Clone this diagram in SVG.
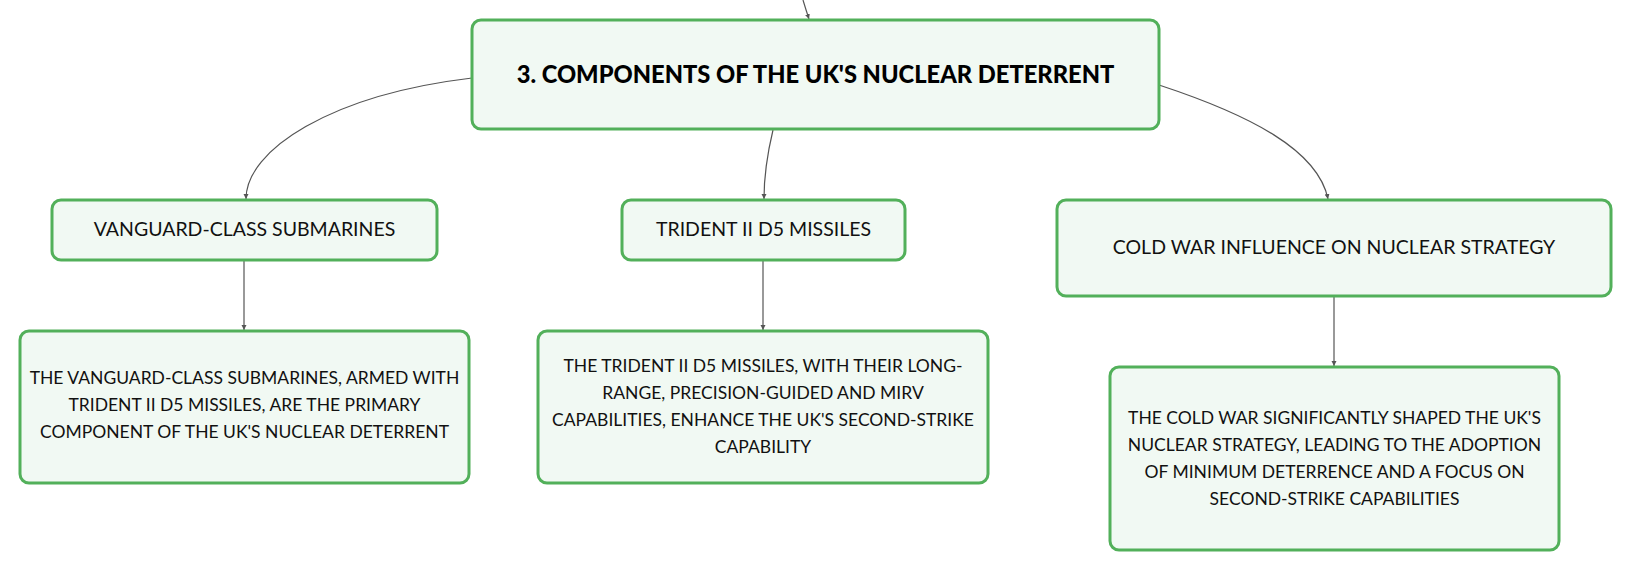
<svg xmlns="http://www.w3.org/2000/svg" width="1633" height="573" viewBox="0 0 1633 573">
<style>
.box{fill:#f1f9f3;stroke:#52b05a;stroke-width:3}
.t{font-family:Lato,"Open Sans","Liberation Sans",sans-serif;font-size:17.5px;fill:#111;text-anchor:middle}
.s{font-size:19.5px}
.h{font-family:Lato,"Liberation Sans",sans-serif;font-size:23.7px;font-weight:900;fill:#000;text-anchor:middle}
.c{fill:none;stroke:#555;stroke-width:1.2}
</style>
<defs>
<marker id="a" markerWidth="6" markerHeight="6" refX="5" refY="3" orient="auto" markerUnits="userSpaceOnUse">
<path d="M0,0.5 L5,3 L0,5.5 z" fill="#555"/>
</marker>
</defs>
<g id="connectors">
<path class="c" d="M803,0 Q806,10 809,19" marker-end="url(#a)"/>
<path class="c" d="M472,78 C330,95 246,150 246,199" marker-end="url(#a)"/>
<path class="c" d="M773,130 C767,155 764,175 764,199" marker-end="url(#a)"/>
<path class="c" d="M1159,85 C1250,115 1318,150 1328,199" marker-end="url(#a)"/>
<path class="c" d="M244,260 L244,330" marker-end="url(#a)"/>
<path class="c" d="M763,261 L763,330" marker-end="url(#a)"/>
<path class="c" d="M1334,297 L1334,366" marker-end="url(#a)"/>
</g>
<g id="n-main">
<rect class="box" x="472" y="20" width="687" height="109" rx="9"/>
<text class="h" x="815.5" y="83">3. COMPONENTS OF THE UK'S NUCLEAR DETERRENT</text>
</g>
<g id="n-vanguard">
<rect class="box" x="52" y="200" width="385" height="60" rx="9"/>
<text class="t s" x="244.5" y="236">VANGUARD-CLASS SUBMARINES</text>
</g>
<g id="n-trident">
<rect class="box" x="622" y="200" width="283" height="60" rx="9"/>
<text class="t s" x="763.5" y="236">TRIDENT II D5 MISSILES</text>
</g>
<g id="n-coldwar">
<rect class="box" x="1057" y="200" width="554" height="96" rx="9"/>
<text class="t s" x="1334" y="254">COLD WAR INFLUENCE ON NUCLEAR STRATEGY</text>
</g>
<g id="n-vanguard-detail">
<rect class="box" x="20" y="331" width="449" height="152" rx="9"/>
<text class="t" x="244.5" y="384">THE VANGUARD-CLASS SUBMARINES, ARMED WITH</text>
<text class="t" x="244.5" y="411">TRIDENT II D5 MISSILES, ARE THE PRIMARY</text>
<text class="t" x="244.5" y="438">COMPONENT OF THE UK'S NUCLEAR DETERRENT</text>
</g>
<g id="n-trident-detail">
<rect class="box" x="538" y="331" width="450" height="152" rx="9"/>
<text class="t" x="763" y="372">THE TRIDENT II D5 MISSILES, WITH THEIR LONG-</text>
<text class="t" x="763" y="399">RANGE, PRECISION-GUIDED AND MIRV</text>
<text class="t" x="763" y="426">CAPABILITIES, ENHANCE THE UK'S SECOND-STRIKE</text>
<text class="t" x="763" y="453">CAPABILITY</text>
</g>
<g id="n-coldwar-detail">
<rect class="box" x="1110" y="367" width="449" height="183" rx="9"/>
<text class="t" x="1334.5" y="424">THE COLD WAR SIGNIFICANTLY SHAPED THE UK'S</text>
<text class="t" x="1334.5" y="451">NUCLEAR STRATEGY, LEADING TO THE ADOPTION</text>
<text class="t" x="1334.5" y="478">OF MINIMUM DETERRENCE AND A FOCUS ON</text>
<text class="t" x="1334.5" y="505">SECOND-STRIKE CAPABILITIES</text>
</g>
</svg>
